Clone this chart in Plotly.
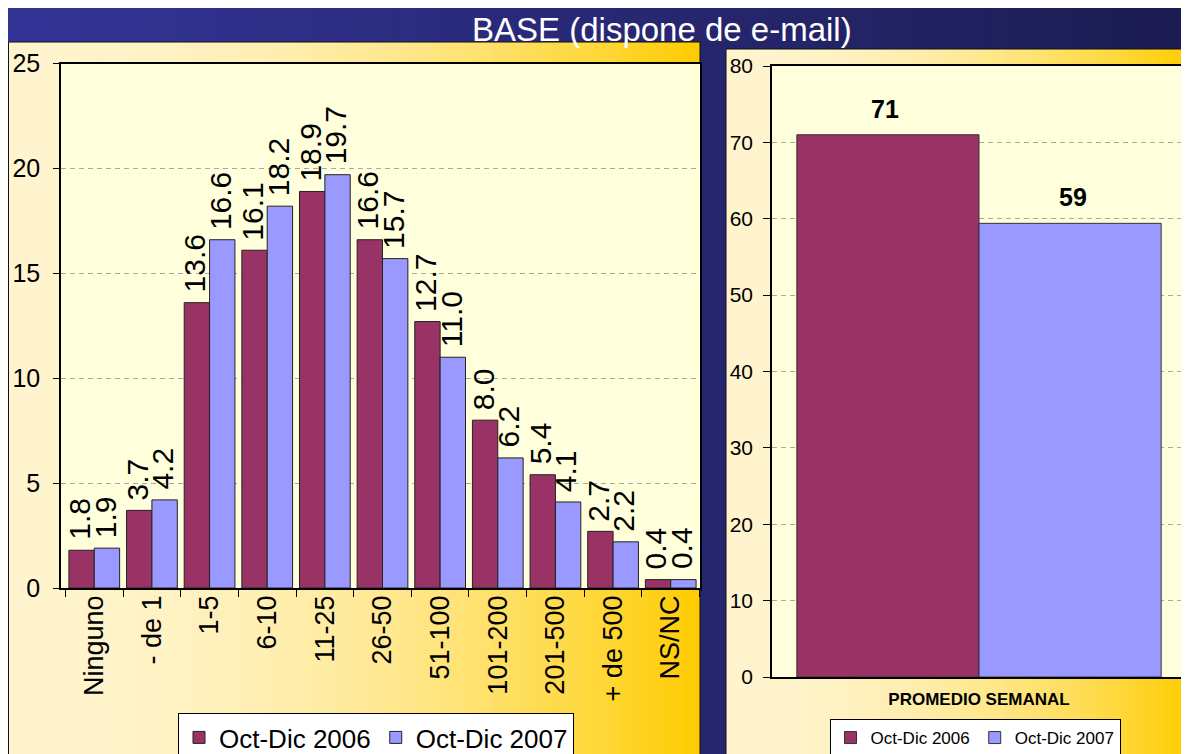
import plotly.graph_objects as go

# page is rendered with an 8px body margin: build figure in reference pixel
# coordinates shifted by that margin
OFF = 8
W, H = 1189 - OFF, 754 - OFF
FONT = "Liberation Sans, Arial, sans-serif"

# ---------------- data ----------------
categories = ["Ninguno", "- de 1", "1-5", "6-10", "11-25", "26-50",
              "51-100", "101-200", "201-500", "+ de 500", "NS/NC"]
vals_2006 = [1.8, 3.7, 13.6, 16.1, 18.9, 16.6, 12.7, 8.0, 5.4, 2.7, 0.4]
vals_2007 = [1.9, 4.2, 16.6, 18.2, 19.7, 15.7, 11.0, 6.2, 4.1, 2.2, 0.4]
series_names = ["Oct-Dic 2006", "Oct-Dic 2007"]
left_ticks = [0, 5, 10, 15, 20, 25]

avg_category = ["PROMEDIO SEMANAL"]
avg_2006 = [71.0]
avg_2007 = [59.4]
avg_labels = ["71", "59"]
right_ticks = [0, 10, 20, 30, 40, 50, 60, 70, 80]

title_text = "BASE (dispone de e-mail)"

RED = "#993366"
BLUE = "#9999FF"


def px_x(p):
    return (p - OFF) / W


def px_y(p):
    return 1 - (p - OFF) / H


def lerp(c0, c1, f):
    return tuple(int(round(a + (b - a) * f)) for a, b in zip(c0, c1))


def strips(x0, x1, y0, y1, c0, c1, n, power=1.0):
    out = []
    w = (x1 - x0) / n
    for i in range(n):
        t = (i + 0.5) / n
        r, g, b = lerp(c0, c1, t ** power)
        out.append(dict(type="rect", xref="paper", yref="paper", layer="below",
                        x0=px_x(x0 + i * w), x1=px_x(min(x1, x0 + (i + 1) * w + 0.8)),
                        y0=px_y(y1), y1=px_y(y0),
                        line=dict(width=0), fillcolor=f"rgb({r},{g},{b})"))
    return out


shapes = []
# dark blue page background
shapes += strips(0, 1189, 0, 760, (52, 52, 152), (28, 28, 82), 60)
# left panel box
shapes += strips(8, 700, 42, 760, (255, 244, 206), (255, 204, 0), 80, power=2.0)
shapes.append(dict(type="rect", xref="paper", yref="paper", layer="below",
                   x0=px_x(8.5), x1=px_x(700), y0=px_y(760), y1=px_y(42),
                   line=dict(width=1, color="#111111"), fillcolor="rgba(0,0,0,0)"))
# right panel box
shapes += strips(726, 1189, 49, 760, (255, 244, 206), (255, 204, 0), 60, power=2.0)
shapes.append(dict(type="rect", xref="paper", yref="paper", layer="below",
                   x0=px_x(726), x1=px_x(1195), y0=px_y(760), y1=px_y(49),
                   line=dict(width=1, color="#111111"), fillcolor="rgba(0,0,0,0)"))
# plot areas
shapes.append(dict(type="rect", xref="paper", yref="paper", layer="below",
                   x0=px_x(61), x1=px_x(700), y0=px_y(588), y1=px_y(63.5),
                   line=dict(width=0), fillcolor="#FFFFDC"))
shapes.append(dict(type="rect", xref="paper", yref="paper", layer="below",
                   x0=px_x(772), x1=px_x(1186), y0=px_y(677), y1=px_y(66),
                   line=dict(width=0), fillcolor="#FFFFDC"))

fig = go.Figure()

# left chart
fig.add_trace(go.Bar(x=categories, y=vals_2006, name=series_names[0],
                     marker=dict(color=RED, line=dict(color="#222222", width=1)),
                     xaxis="x", yaxis="y", legend="legend"))
fig.add_trace(go.Bar(x=categories, y=vals_2007, name=series_names[1],
                     marker=dict(color=BLUE, line=dict(color="#222222", width=1)),
                     xaxis="x", yaxis="y", legend="legend"))
# right chart
fig.add_trace(go.Bar(x=avg_category, y=avg_2006, name=series_names[0],
                     marker=dict(color=RED, line=dict(color="#333333", width=1)),
                     xaxis="x2", yaxis="y2", legend="legend2"))
fig.add_trace(go.Bar(x=avg_category, y=avg_2007, name=series_names[1],
                     marker=dict(color=BLUE, line=dict(color="#333333", width=1)),
                     xaxis="x2", yaxis="y2", legend="legend2"))

annotations = []
# left data labels (rotated)
cat_w = 639 / 11
grp_w = cat_w * (1 - 0.12)
bar_off = grp_w / 4
for vals, sgn in ((vals_2006, -1), (vals_2007, 1)):
    for c, v in zip(categories, vals):
        annotations.append(dict(x=c, y=v, xref="x", yref="y", text=f"{v:.1f}",
                                showarrow=False, textangle=-90,
                                xanchor="center", yanchor="bottom",
                                xshift=sgn * bar_off - 2, yshift=8,
                                font=dict(family=FONT, size=30, color="black")))
# right data labels
r_off = 414 * (1 - 0.089) / 4
for vals, lab, sgn in ((avg_2006, avg_labels[0], -1), (avg_2007, avg_labels[1], 1)):
    annotations.append(dict(x=avg_category[0], y=vals[0], xref="x2", yref="y2",
                            text=f"<b>{lab}</b>", showarrow=False,
                            xanchor="center", yanchor="bottom",
                            xshift=sgn * r_off, yshift=10,
                            font=dict(family=FONT, size=25, color="black")))
# title
annotations.append(dict(x=px_x(662), y=px_y(29), xref="paper", yref="paper",
                        text=title_text, showarrow=False,
                        xanchor="center", yanchor="middle",
                        font=dict(family=FONT, size=33, color="white")))

fig.update_layout(
    width=W, height=H,
    margin=dict(l=0, r=0, t=0, b=0, pad=0, autoexpand=False),
    paper_bgcolor="#2a2a80",
    plot_bgcolor="rgba(0,0,0,0)",
    barmode="group",
    bargap=0.12,
    bargroupgap=0,
    font=dict(family=FONT, color="black"),
    shapes=shapes,
    annotations=annotations,
    xaxis=dict(domain=[px_x(61), px_x(700)], anchor="y", type="category",
               tickson="boundaries", ticks="outside", ticklen=7, tickcolor="black",
               tickangle=-90, tickfont=dict(size=27, family=FONT),
               ticklabelstandoff=-5,
               showline=True, linecolor="black", linewidth=1.5, mirror=True,
               showgrid=False, zeroline=False, automargin=False),
    yaxis=dict(domain=[px_y(588), px_y(63.5)], anchor="x", range=[0, 25],
               tickvals=left_ticks, ticks="outside", ticklen=6, tickcolor="black",
               tickfont=dict(size=25, family=FONT), ticklabelstandoff=8,
               showline=True, linecolor="black", linewidth=1.5, mirror=True,
               showgrid=True, gridcolor="#A8A8A8", griddash="5px,4px", gridwidth=1,
               zeroline=False, automargin=False),
    xaxis2=dict(domain=[px_x(772), px_x(1186)], anchor="y2", type="category",
                ticks="", tickfont=dict(size=17, family=FONT),
                ticktext=["<b>PROMEDIO SEMANAL</b>"], tickvals=avg_category,
                ticklabelstandoff=6,
                showline=True, linecolor="black", linewidth=1.5, mirror=True,
                showgrid=False, zeroline=False, automargin=False),
    yaxis2=dict(domain=[px_y(677), px_y(66)], anchor="x2", range=[0, 80],
                tickvals=right_ticks, ticks="outside", ticklen=7, tickcolor="black",
                tickfont=dict(size=21, family=FONT), ticklabelstandoff=6,
                showline=True, linecolor="black", linewidth=1.5, mirror=True,
                showgrid=True, gridcolor="#A8A8A8", griddash="5px,4px", gridwidth=1,
                zeroline=False, automargin=False),
    legend=dict(orientation="h", x=px_x(376), xanchor="center",
                y=px_y(713), yanchor="top",
                bgcolor="white", bordercolor="black", borderwidth=1,
                font=dict(size=26, family=FONT), itemwidth=30,
                tracegroupgap=0),
    legend2=dict(orientation="h", x=px_x(975), xanchor="center",
                 y=px_y(719), yanchor="top",
                 bgcolor="white", bordercolor="black", borderwidth=1,
                 font=dict(size=17, family=FONT), itemwidth=30,
                 tracegroupgap=0),
)

fig.write_html("out.html")
